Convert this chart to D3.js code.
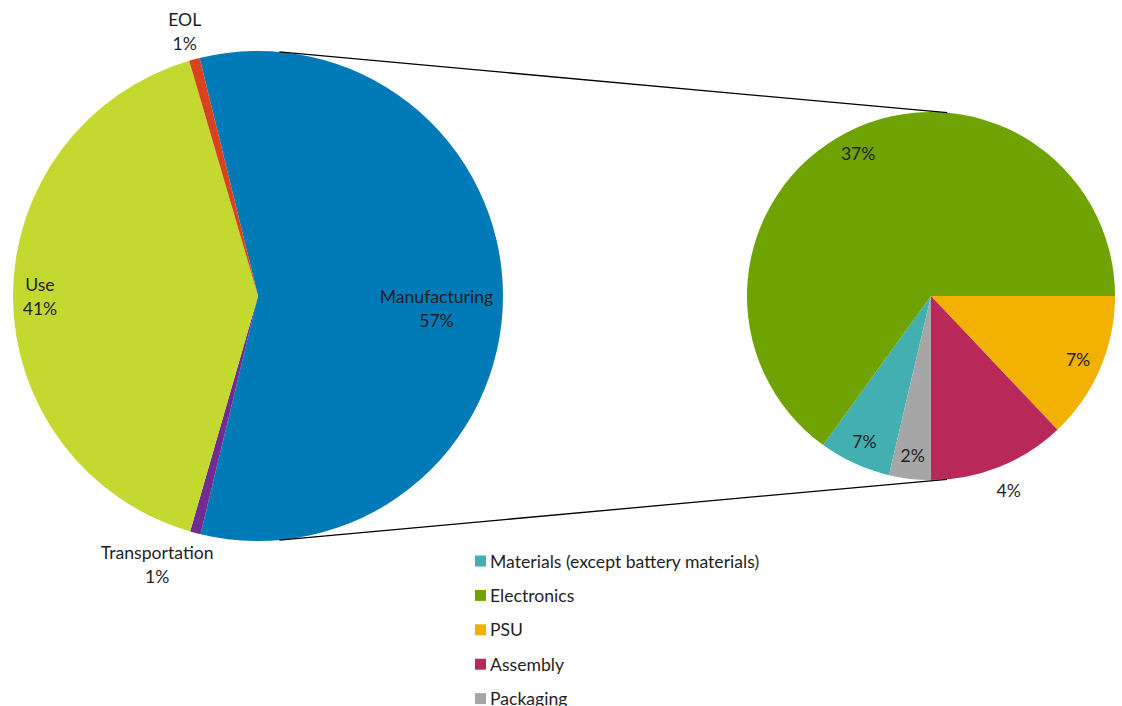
<!DOCTYPE html>
<html>
<head>
<meta charset="utf-8">
<script src="https://cdn.jsdelivr.net/npm/d3@7"></script>
<style>
  body { margin: 0; background: #fff; }
  text { font-family: Lato, "Open Sans", sans-serif; fill: #1f1f1f; }
</style>
</head>
<body>
<div class="chart"></div>
<script>
// main pie (share of total footprint)
const mainCategories = ["Manufacturing", "Transportation", "Use", "EOL"];
const mainValues = [57.6, 0.7, 41.0, 0.7];
const mainLabels = ["57%", "1%", "41%", "1%"];

// breakdown of manufacturing
const subCategories = ["Materials (except battery materials)", "Electronics", "PSU", "Assembly", "Packaging"];
const subValues = [3.6, 37.2, 7.4, 6.9, 2.1];
const subLabels = ["7%", "37%", "7%", "4%", "2%"];

const width = 1122, height = 706;
const fontSize = 17.6;

const mainColor = d3.scaleOrdinal(mainCategories, ["#007bb8", "#702c91", "#c3d92f", "#d9421e"]);
const subColor = d3.scaleOrdinal(subCategories, ["#42afb0", "#6fa303", "#f2b000", "#b82959", "#a6a6a6"]);

const svg = d3.select(".chart")
    .append("svg")
    .attr("width", width)
    .attr("height", height);

const rad = deg => deg * Math.PI / 180;

// left pie
const mainC = [258, 296], mainR = 245;
const mainStart = rad(-13.8);
const mainPie = d3.pie().sort(null).value(d => d.value)
    .startAngle(mainStart).endAngle(mainStart + 2 * Math.PI);
const mainArc = d3.arc().innerRadius(0).outerRadius(mainR);
const mainData = mainPie(mainValues.map((v, i) => ({ key: mainCategories[i], value: v, label: mainLabels[i] })));

const g1 = svg.append("g").attr("transform", `translate(${mainC[0]},${mainC[1]})`);
g1.selectAll("path")
    .data(mainData)
    .enter().append("path")
    .attr("d", mainArc)
    .attr("fill", d => mainColor(d.data.key));

// label placement: radius factor, angle nudge (deg) and x shift per slice
const mainLabelPos = {
    "Manufacturing": { k: 0.73, da: 4, dx: 0 },
    "Use": { k: 0.89, da: 0, dx: 0 },
    "EOL": { k: 1.12, da: 0, dx: -2 },
    "Transportation": { k: 1.13, da: 0, dx: -30 }
};

const mainText = g1.selectAll("text.lbl")
    .data(mainData)
    .enter().append("text")
    .attr("class", "lbl")
    .attr("text-anchor", "middle")
    .attr("font-size", fontSize)
    .attr("transform", d => {
        const p = mainLabelPos[d.data.key];
        const a = (d.startAngle + d.endAngle) / 2 + rad(p.da);
        const r = mainR * p.k;
        return `translate(${r * Math.sin(a) + p.dx},${-r * Math.cos(a)})`;
    });
mainText.append("tspan").attr("x", 0).attr("y", -5).text(d => d.data.key);
mainText.append("tspan").attr("x", 0).attr("y", 19).text(d => d.data.label);

// right pie
const subC = [931, 296], subR = 184;
const subTotal = d3.sum(subValues);
const subStart = Math.PI + 2 * Math.PI * subValues[4] / subTotal;
const subPie = d3.pie().sort(null).value(d => d.value)
    .startAngle(subStart).endAngle(subStart + 2 * Math.PI);
const subArc = d3.arc().innerRadius(0).outerRadius(subR);
const subData = subPie(subValues.map((v, i) => ({ key: subCategories[i], value: v, label: subLabels[i] })));

const g2 = svg.append("g").attr("transform", `translate(${subC[0]},${subC[1]})`);
g2.selectAll("path")
    .data(subData)
    .enter().append("path")
    .attr("d", subArc)
    .attr("fill", d => subColor(d.data.key));

const subLabelK = { "Assembly": 1.14 };
g2.selectAll("text")
    .data(subData)
    .enter().append("text")
    .attr("text-anchor", "middle")
    .attr("dominant-baseline", "central")
    .attr("font-size", fontSize)
    .attr("transform", d => {
        const a = (d.startAngle + d.endAngle) / 2;
        const r = subR * (subLabelK[d.data.key] || 0.87);
        return `translate(${r * Math.sin(a)},${-r * Math.cos(a)})`;
    })
    .text(d => d.data.label);

// connector lines
const linkAngle = rad(5);
[linkAngle, Math.PI - linkAngle].forEach(a => {
    svg.append("line")
        .attr("x1", mainC[0] + mainR * Math.sin(a))
        .attr("y1", mainC[1] - mainR * Math.cos(a))
        .attr("x2", subC[0] + subR * Math.sin(a))
        .attr("y2", subC[1] - subR * Math.cos(a))
        .attr("stroke", "#000")
        .attr("stroke-width", 1.3);
});

// legend
const legend = svg.append("g").attr("transform", "translate(475,561)");
const row = legend.selectAll("g")
    .data(subCategories)
    .enter().append("g")
    .attr("transform", (d, i) => `translate(0,${i * 34.4})`);
row.append("rect")
    .attr("x", 0).attr("y", -5.5)
    .attr("width", 11).attr("height", 11)
    .attr("fill", d => subColor(d));
row.append("text")
    .attr("x", 15)
    .attr("dominant-baseline", "central")
    .attr("font-size", fontSize)
    .text(d => d);
</script>
</body>
</html>
